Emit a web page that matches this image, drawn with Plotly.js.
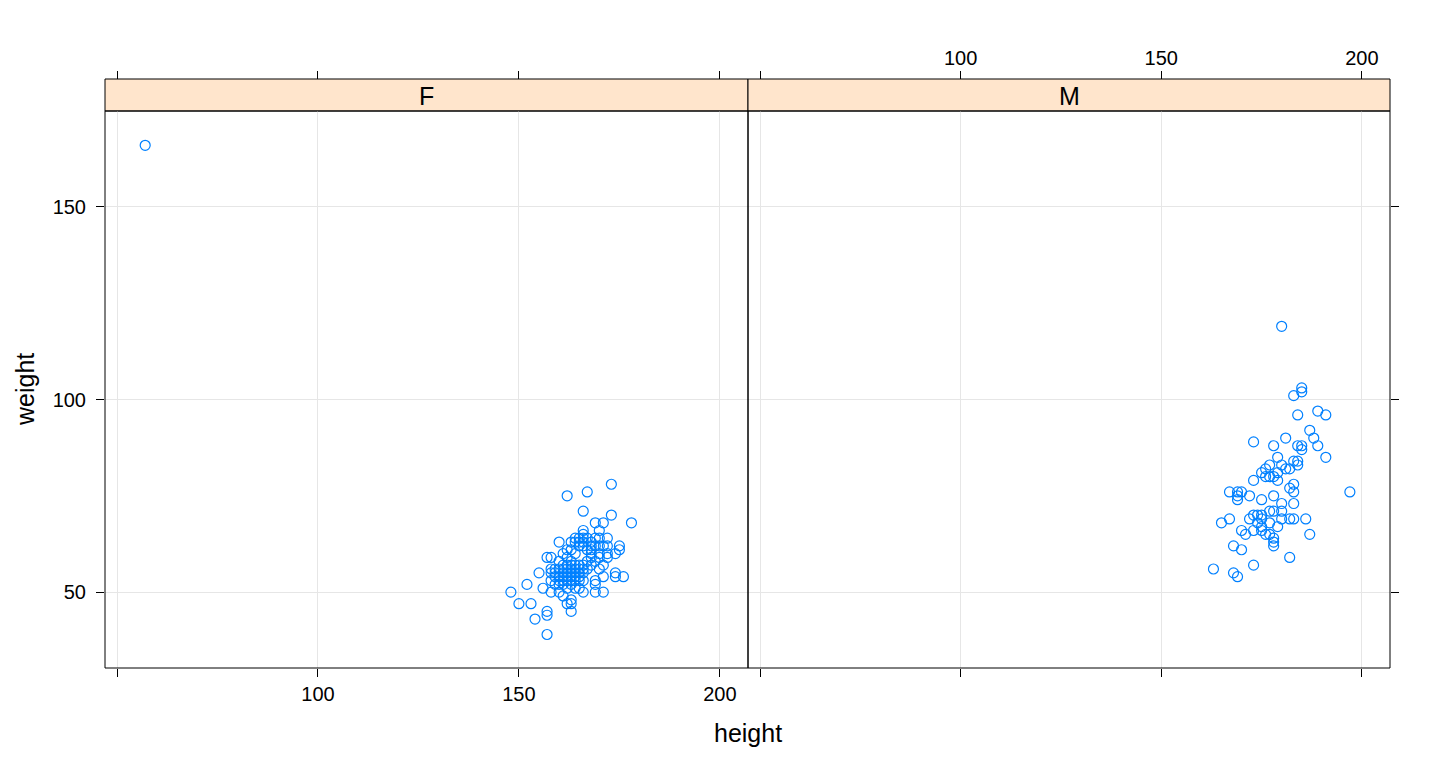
<!DOCTYPE html>
<html>
<head>
<meta charset="utf-8">
<script src="https://cdn.plot.ly/plotly-3.0.1.min.js"></script>
<style>
  html, body { margin: 0; padding: 0; background: #fff; }
  #chart { width: 1440px; height: 768px; }
</style>
</head>
<body>
<div id="chart"></div>
<script>
// panels (lattice strips)
const panels = ['F', 'M'];

// female points, height (cm) / weight (kg)
const heightF = [57,
  173, 167, 162, 166, 173, 178, 169, 171, 166, 166, 170, 160, 172, 170, 175, 175,
  163, 164, 165, 166, 167, 168, 169, 170, 165, 166, 167, 168, 162, 163, 164, 162,
  157, 158, 172, 172, 174, 167, 169, 168, 171,
  155, 170, 166, 167, 174, 174, 176, 171, 169, 169, 164, 165, 158, 159, 152, 156,
  148, 158, 160, 161, 166, 169, 171, 163, 162, 163, 150, 153, 163, 157, 157, 154, 157,
  160, 160, 160, 160, 161, 161, 161, 161, 161, 161, 162, 162, 162, 162, 162,
  163, 163, 163, 163, 163, 163, 164, 164, 164, 164, 165, 165, 165, 165, 166, 166,
  160, 161, 163, 164, 162, 165, 166, 168, 168, 170, 168, 166, 165, 164, 171, 170,
  172, 169, 159, 159, 159, 158, 158];
const weightF = [166,
  78, 76, 75, 71, 70, 68, 68, 68, 66, 65, 66, 63, 64, 64, 62, 61,
  63, 64, 64, 64, 64, 63, 62, 62, 62, 62, 61, 61, 61, 61, 60, 59,
  59, 59, 60, 59, 60, 58, 58, 57, 57,
  55, 56, 55, 56, 55, 54, 54, 54, 53, 52, 54, 53, 53, 52, 52, 51,
  50, 50, 50, 49, 50, 50, 50, 48, 47, 47, 47, 47, 45, 45, 44, 43, 39,
  52, 53, 54, 56, 52, 53, 54, 55, 56, 57, 53, 54, 55, 56, 57,
  52, 53, 54, 55, 56, 57, 53, 55, 56, 57, 54, 55, 56, 57, 56, 57,
  58, 60, 58, 51, 51, 51, 53, 59, 60, 59, 62, 63, 63, 63, 62, 60,
  62, 64, 55, 56, 54, 56, 55];

// male points
const heightM = [180, 185, 185, 183, 184, 189, 191, 187, 188, 173, 181, 178, 184, 185, 185, 189,
  191, 179, 183, 184, 184, 180, 181, 182, 177, 176, 175, 179, 176, 178, 179, 177, 173,
  183, 182, 183, 167, 169, 170, 169, 169, 172, 175, 178, 197, 183, 180, 180, 178, 177,
  173, 174, 175, 172, 175, 180, 182, 183, 186, 167, 165, 177, 179, 174, 175, 170, 171,
  173, 175, 176, 177, 178, 178, 178, 187, 168, 170, 182, 173, 163, 168, 169];
const weightM = [119, 103, 102, 101, 96, 97, 96, 92, 90, 89, 90, 88, 88, 88, 87, 88,
  85, 85, 84, 84, 83, 83, 82, 82, 83, 82, 81, 81, 80, 80, 79, 80, 79,
  78, 77, 76, 76, 76, 76, 75, 74, 75, 74, 75, 76, 73, 73, 71, 71, 71,
  70, 70, 70, 69, 69, 69, 69, 69, 69, 69, 68, 68, 67, 68, 67, 66, 65,
  66, 66, 65, 65, 64, 63, 62, 65, 62, 61, 59, 57, 56, 55, 54];

const xTicks = [50, 100, 150, 200];
const xTickText = ['', '100', '150', '200'];
const yTicks = [50, 100, 150];

const W = 1440, H = 768;
const px = (v) => v / W;
const py = (v) => 1 - v / H;

const blue = '#0080FF';
const font = 'Liberation Sans, Arial, Helvetica, sans-serif';

function pointTrace(xs, ys, xaxis) {
  return {
    x: xs, y: ys, xaxis: xaxis, yaxis: 'y',
    type: 'scatter', mode: 'markers',
    marker: { symbol: 'circle-open', size: 10, color: blue, line: { width: 1.2, color: blue } },
    hoverinfo: 'x+y', showlegend: false
  };
}
const blank = (xa, ya) => ({ x: [], y: [], xaxis: xa, yaxis: ya, type: 'scatter', mode: 'markers', showlegend: false, hoverinfo: 'skip' });

const data = [
  pointTrace(heightF, weightF, 'x'),
  pointTrace(heightM, weightM, 'x2'),
  blank('x3', 'y'), blank('x4', 'y'), blank('x2', 'y2')
];

const xRange = [47, 207];
const yRange = [30.3, 174.9];

const baseX = {
  range: xRange, tickvals: xTicks, ticktext: xTickText,
  ticks: 'outside', ticklen: 8, tickwidth: 1, tickcolor: '#000',
  showline: false, zeroline: false, fixedrange: true,
  tickfont: { family: font, size: 20, color: '#000' }
};

const layout = {
  width: W, height: H,
  margin: { l: 0, r: 0, t: 0, b: 0 },
  paper_bgcolor: '#fff', plot_bgcolor: 'rgba(0,0,0,0)',
  showlegend: false,
  xaxis: Object.assign({}, baseX, { domain: [px(105), px(748)], anchor: 'y', showgrid: true, gridcolor: '#E6E6E6', ticklabelstandoff: 0 }),
  xaxis2: Object.assign({}, baseX, { domain: [px(748), px(1390)], anchor: 'y', showgrid: true, gridcolor: '#E6E6E6', showticklabels: false }),
  xaxis3: Object.assign({}, baseX, { overlaying: 'x', side: 'top', anchor: 'free', position: py(79), showgrid: false, showticklabels: false }),
  xaxis4: Object.assign({}, baseX, { overlaying: 'x2', side: 'top', anchor: 'free', position: py(79), showgrid: false, ticklabelstandoff: -2 }),
  yaxis: {
    domain: [py(668), py(111)], range: yRange, anchor: 'x',
    tickvals: yTicks, ticks: 'outside', ticklen: 8, tickwidth: 1, tickcolor: '#000',
    showgrid: true, gridcolor: '#E6E6E6', zeroline: false, showline: false, fixedrange: true,
    ticklabelstandoff: 6,
    tickfont: { family: font, size: 20, color: '#000' }
  },
  yaxis2: {
    overlaying: 'y', side: 'right', anchor: 'x2', range: yRange,
    tickvals: yTicks, ticks: 'outside', ticklen: 8, tickwidth: 1, tickcolor: '#000',
    showgrid: false, zeroline: false, showline: false, showticklabels: false, fixedrange: true
  },
  shapes: [],
  annotations: [
    { text: 'height', x: px(748), y: py(733), xref: 'paper', yref: 'paper', showarrow: false,
      xanchor: 'center', yanchor: 'middle',
      font: { family: font, size: 25, color: '#000' } },
    { text: 'weight', x: px(25), y: py(390), xref: 'paper', yref: 'paper', showarrow: false, textangle: -90,
      xanchor: 'center', yanchor: 'middle',
      font: { family: font, size: 25, color: '#000' } }
  ]
};

// strips and panel borders
const panelEdges = [[105, 748], [748, 1390]];
panels.forEach((name, i) => {
  const [l, r] = panelEdges[i];
  layout.shapes.push({ type: 'rect', xref: 'paper', yref: 'paper', x0: px(l), x1: px(r), y0: py(111), y1: py(79),
    fillcolor: '#FFE5CC', line: { color: '#000', width: 1 }, layer: 'below' });
  layout.shapes.push({ type: 'rect', xref: 'paper', yref: 'paper', x0: px(l), x1: px(r), y0: py(668), y1: py(111),
    fillcolor: 'rgba(0,0,0,0)', line: { color: '#000', width: 1 }, layer: 'above' });
  layout.annotations.push({ text: name, x: (px(l) + px(r)) / 2, y: py(96), xref: 'paper', yref: 'paper', showarrow: false,
    xanchor: 'center', yanchor: 'middle',
    font: { family: font, size: 25, color: '#000' } });
});

Plotly.newPlot('chart', data, layout, { displayModeBar: false, staticPlot: true });
</script>
</body>
</html>
